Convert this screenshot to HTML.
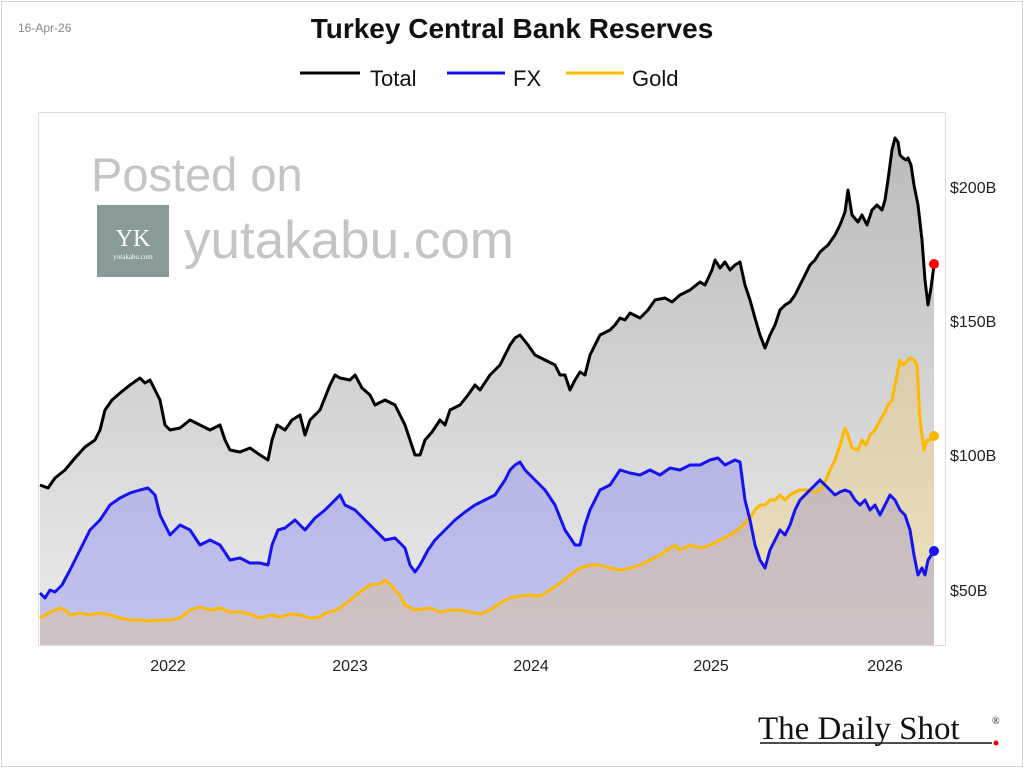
<!DOCTYPE html>
<html><head><meta charset="utf-8"><style>
body{margin:0;background:#fff;}
svg{display:block;font-family:"Liberation Sans",sans-serif;}
</style></head><body>
<svg width="1024" height="768" viewBox="0 0 1024 768">
<defs>
<linearGradient id="gt" gradientUnits="userSpaceOnUse" x1="0" y1="140" x2="0" y2="645">
<stop offset="0" stop-color="#bbbbbb"/><stop offset="1" stop-color="#ececec"/></linearGradient>
</defs>
<rect x="1.5" y="1.5" width="1021" height="765" fill="#fff" stroke="#d0d0d0"/>
<text x="18" y="32" font-size="12" fill="#888">16-Apr-26</text>
<text x="512" y="38" font-size="28" font-weight="bold" text-anchor="middle" fill="#111">Turkey Central Bank Reserves</text>
<g font-size="22" fill="#111">
<line x1="300" y1="73" x2="360" y2="73" stroke="#000" stroke-width="3"/><text x="370" y="86">Total</text>
<line x1="447" y1="73" x2="505" y2="73" stroke="#1010ee" stroke-width="3"/><text x="513" y="86">FX</text>
<line x1="566" y1="73" x2="624" y2="73" stroke="#ffb800" stroke-width="3"/><text x="632" y="86">Gold</text>
</g>
<rect x="38.5" y="112.5" width="907" height="533" fill="#fff" stroke="#ddd"/>
<polygon fill="url(#gt)" points="40,645 40,485 48,488 55,478 65,470 75,458 85,447 95,440 100,430 105,410 112,400 120,393 130,385 140,378 145,383 150,380 155,390 160,400 165,425 170,430 180,428 190,420 200,425 210,430 220,425 225,440 230,450 240,452 250,448 260,455 268,460 272,440 277,425 285,430 292,420 300,415 305,435 310,420 320,410 330,385 335,375 340,378 350,380 355,375 362,388 370,395 375,405 385,400 395,405 400,415 405,425 410,440 415,455 420,455 425,440 432,432 440,420 445,425 450,410 460,405 468,395 475,385 480,390 490,375 500,365 505,355 510,345 515,338 520,335 528,345 535,355 545,360 555,365 560,375 565,375 570,390 575,380 580,372 585,375 590,355 595,345 600,335 610,330 615,325 620,318 625,320 630,313 640,318 648,310 655,300 665,298 672,302 680,295 690,290 700,282 705,285 712,270 715,260 720,268 725,262 730,270 735,265 740,262 745,285 750,300 755,318 760,335 765,348 770,335 775,325 780,310 785,305 790,302 795,295 800,285 805,275 810,265 815,260 820,252 828,245 835,235 840,225 845,212 848,190 852,215 858,222 862,215 867,225 872,210 877,205 882,210 885,200 888,180 892,150 895,138 898,142 900,155 903,158 906,160 908,158 911,165 914,185 918,205 922,240 925,280 928,305 931,288 934,265 934,645"/>
<polygon fill="rgba(90,90,255,0.28)" points="40,645 40,593 45,598 50,590 55,592 62,585 70,570 75,560 80,550 90,530 100,520 110,505 120,498 130,493 140,490 148,488 155,495 160,515 165,525 170,535 180,525 190,530 200,545 210,540 220,545 230,560 240,558 250,563 260,563 268,565 272,545 278,530 285,528 295,520 305,530 315,518 325,510 335,500 340,495 345,505 355,510 365,520 375,530 385,540 395,538 405,548 410,565 415,572 420,565 428,550 435,540 445,530 455,520 465,512 475,505 485,500 495,495 505,480 510,470 515,465 520,462 525,470 535,480 545,490 555,505 565,530 575,545 580,545 585,525 590,510 600,490 610,485 620,470 630,473 640,475 650,470 660,475 670,468 680,470 690,465 700,465 710,460 718,458 725,465 735,460 740,462 745,500 750,520 755,545 760,560 765,568 770,550 775,540 780,530 785,535 790,525 795,510 800,500 805,495 810,490 815,485 820,480 825,485 830,490 835,495 840,492 845,490 850,492 855,500 860,505 865,500 870,510 875,505 880,515 885,505 890,495 895,500 900,510 905,515 910,530 914,555 918,575 922,568 925,575 928,560 934,551 934,645"/>
<polygon fill="rgba(255,195,40,0.22)" points="40,645 40,618 50,612 60,608 65,610 70,615 80,613 90,615 100,613 110,615 120,618 130,620 140,620 150,621 160,620 170,620 180,618 190,610 200,607 210,610 220,608 230,612 240,612 250,614 260,618 270,615 280,617 290,614 300,615 310,618 320,617 325,613 330,612 340,608 350,600 360,592 370,585 380,584 385,580 390,584 395,590 400,595 405,605 415,610 430,608 440,612 450,610 460,610 470,612 480,614 490,610 500,603 510,598 520,596 530,595 540,596 550,590 560,583 570,575 580,568 590,565 600,565 610,568 620,570 630,568 640,565 650,560 660,555 670,548 675,545 680,550 690,545 700,548 710,545 720,540 730,535 740,528 750,518 755,510 760,505 765,505 770,500 775,500 780,495 785,500 790,495 795,492 800,490 810,490 815,492 820,490 825,482 830,470 835,460 840,445 845,428 848,435 852,448 858,450 862,440 866,445 870,435 875,430 880,420 885,412 888,405 892,400 895,385 898,370 900,360 903,365 906,362 910,358 914,360 917,365 920,420 924,450 927,440 930,440 934,436 934,645"/>
<g fill="none" stroke-width="3" stroke-linejoin="round">
<polyline stroke="#ffb800" points="40,618 50,612 60,608 65,610 70,615 80,613 90,615 100,613 110,615 120,618 130,620 140,620 150,621 160,620 170,620 180,618 190,610 200,607 210,610 220,608 230,612 240,612 250,614 260,618 270,615 280,617 290,614 300,615 310,618 320,617 325,613 330,612 340,608 350,600 360,592 370,585 380,584 385,580 390,584 395,590 400,595 405,605 415,610 430,608 440,612 450,610 460,610 470,612 480,614 490,610 500,603 510,598 520,596 530,595 540,596 550,590 560,583 570,575 580,568 590,565 600,565 610,568 620,570 630,568 640,565 650,560 660,555 670,548 675,545 680,550 690,545 700,548 710,545 720,540 730,535 740,528 750,518 755,510 760,505 765,505 770,500 775,500 780,495 785,500 790,495 795,492 800,490 810,490 815,492 820,490 825,482 830,470 835,460 840,445 845,428 848,435 852,448 858,450 862,440 866,445 870,435 875,430 880,420 885,412 888,405 892,400 895,385 898,370 900,360 903,365 906,362 910,358 914,360 917,365 920,420 924,450 927,440 930,440 934,436"/>
<polyline stroke="#1414f0" points="40,593 45,598 50,590 55,592 62,585 70,570 75,560 80,550 90,530 100,520 110,505 120,498 130,493 140,490 148,488 155,495 160,515 165,525 170,535 180,525 190,530 200,545 210,540 220,545 230,560 240,558 250,563 260,563 268,565 272,545 278,530 285,528 295,520 305,530 315,518 325,510 335,500 340,495 345,505 355,510 365,520 375,530 385,540 395,538 405,548 410,565 415,572 420,565 428,550 435,540 445,530 455,520 465,512 475,505 485,500 495,495 505,480 510,470 515,465 520,462 525,470 535,480 545,490 555,505 565,530 575,545 580,545 585,525 590,510 600,490 610,485 620,470 630,473 640,475 650,470 660,475 670,468 680,470 690,465 700,465 710,460 718,458 725,465 735,460 740,462 745,500 750,520 755,545 760,560 765,568 770,550 775,540 780,530 785,535 790,525 795,510 800,500 805,495 810,490 815,485 820,480 825,485 830,490 835,495 840,492 845,490 850,492 855,500 860,505 865,500 870,510 875,505 880,515 885,505 890,495 895,500 900,510 905,515 910,530 914,555 918,575 922,568 925,575 928,560 934,551"/>
<polyline stroke="#000" points="40,485 48,488 55,478 65,470 75,458 85,447 95,440 100,430 105,410 112,400 120,393 130,385 140,378 145,383 150,380 155,390 160,400 165,425 170,430 180,428 190,420 200,425 210,430 220,425 225,440 230,450 240,452 250,448 260,455 268,460 272,440 277,425 285,430 292,420 300,415 305,435 310,420 320,410 330,385 335,375 340,378 350,380 355,375 362,388 370,395 375,405 385,400 395,405 400,415 405,425 410,440 415,455 420,455 425,440 432,432 440,420 445,425 450,410 460,405 468,395 475,385 480,390 490,375 500,365 505,355 510,345 515,338 520,335 528,345 535,355 545,360 555,365 560,375 565,375 570,390 575,380 580,372 585,375 590,355 595,345 600,335 610,330 615,325 620,318 625,320 630,313 640,318 648,310 655,300 665,298 672,302 680,295 690,290 700,282 705,285 712,270 715,260 720,268 725,262 730,270 735,265 740,262 745,285 750,300 755,318 760,335 765,348 770,335 775,325 780,310 785,305 790,302 795,295 800,285 805,275 810,265 815,260 820,252 828,245 835,235 840,225 845,212 848,190 852,215 858,222 862,215 867,225 872,210 877,205 882,210 885,200 888,180 892,150 895,138 898,142 900,155 903,158 906,160 908,158 911,165 914,185 918,205 922,240 925,280 928,305 931,288 934,265"/>
</g>
<circle cx="934" cy="264" r="5" fill="#f00"/>
<circle cx="934" cy="436" r="5" fill="#ffb800"/>
<circle cx="934" cy="551" r="5" fill="#1414f0"/>
<g font-size="16" fill="#222">
<text x="950" y="193">$200B</text><text x="950" y="327">$150B</text><text x="950" y="461">$100B</text><text x="950" y="596">$50B</text>
<text x="168" y="671" text-anchor="middle">2022</text><text x="350" y="671" text-anchor="middle">2023</text><text x="531" y="671" text-anchor="middle">2024</text><text x="711" y="671" text-anchor="middle">2025</text><text x="885" y="671" text-anchor="middle">2026</text>
</g>
<text x="91" y="191" font-size="47" fill="#c4c4c4">Posted on</text>
<rect x="97" y="205" width="72" height="72" fill="#889b98"/>
<text x="133" y="246" font-size="24" fill="#fff" text-anchor="middle" font-family="Liberation Serif,serif">YK</text>
<text x="133" y="259" font-size="7" fill="#fff" text-anchor="middle" font-family="Liberation Serif,serif">yutakabu.com</text>
<text x="184" y="258" font-size="53" fill="#c4c4c4">yutakabu.com</text>
<text x="758" y="739" font-size="33" fill="#111" font-family="Liberation Serif,serif">The Daily Shot</text>
<text x="992" y="724" font-size="10" fill="#111" font-family="Liberation Serif,serif">®</text>
<line x1="760" y1="743" x2="992" y2="743" stroke="#111" stroke-width="1.5"/>
<circle cx="996" cy="743" r="2.5" fill="#e00"/>
</svg>
</body></html>
